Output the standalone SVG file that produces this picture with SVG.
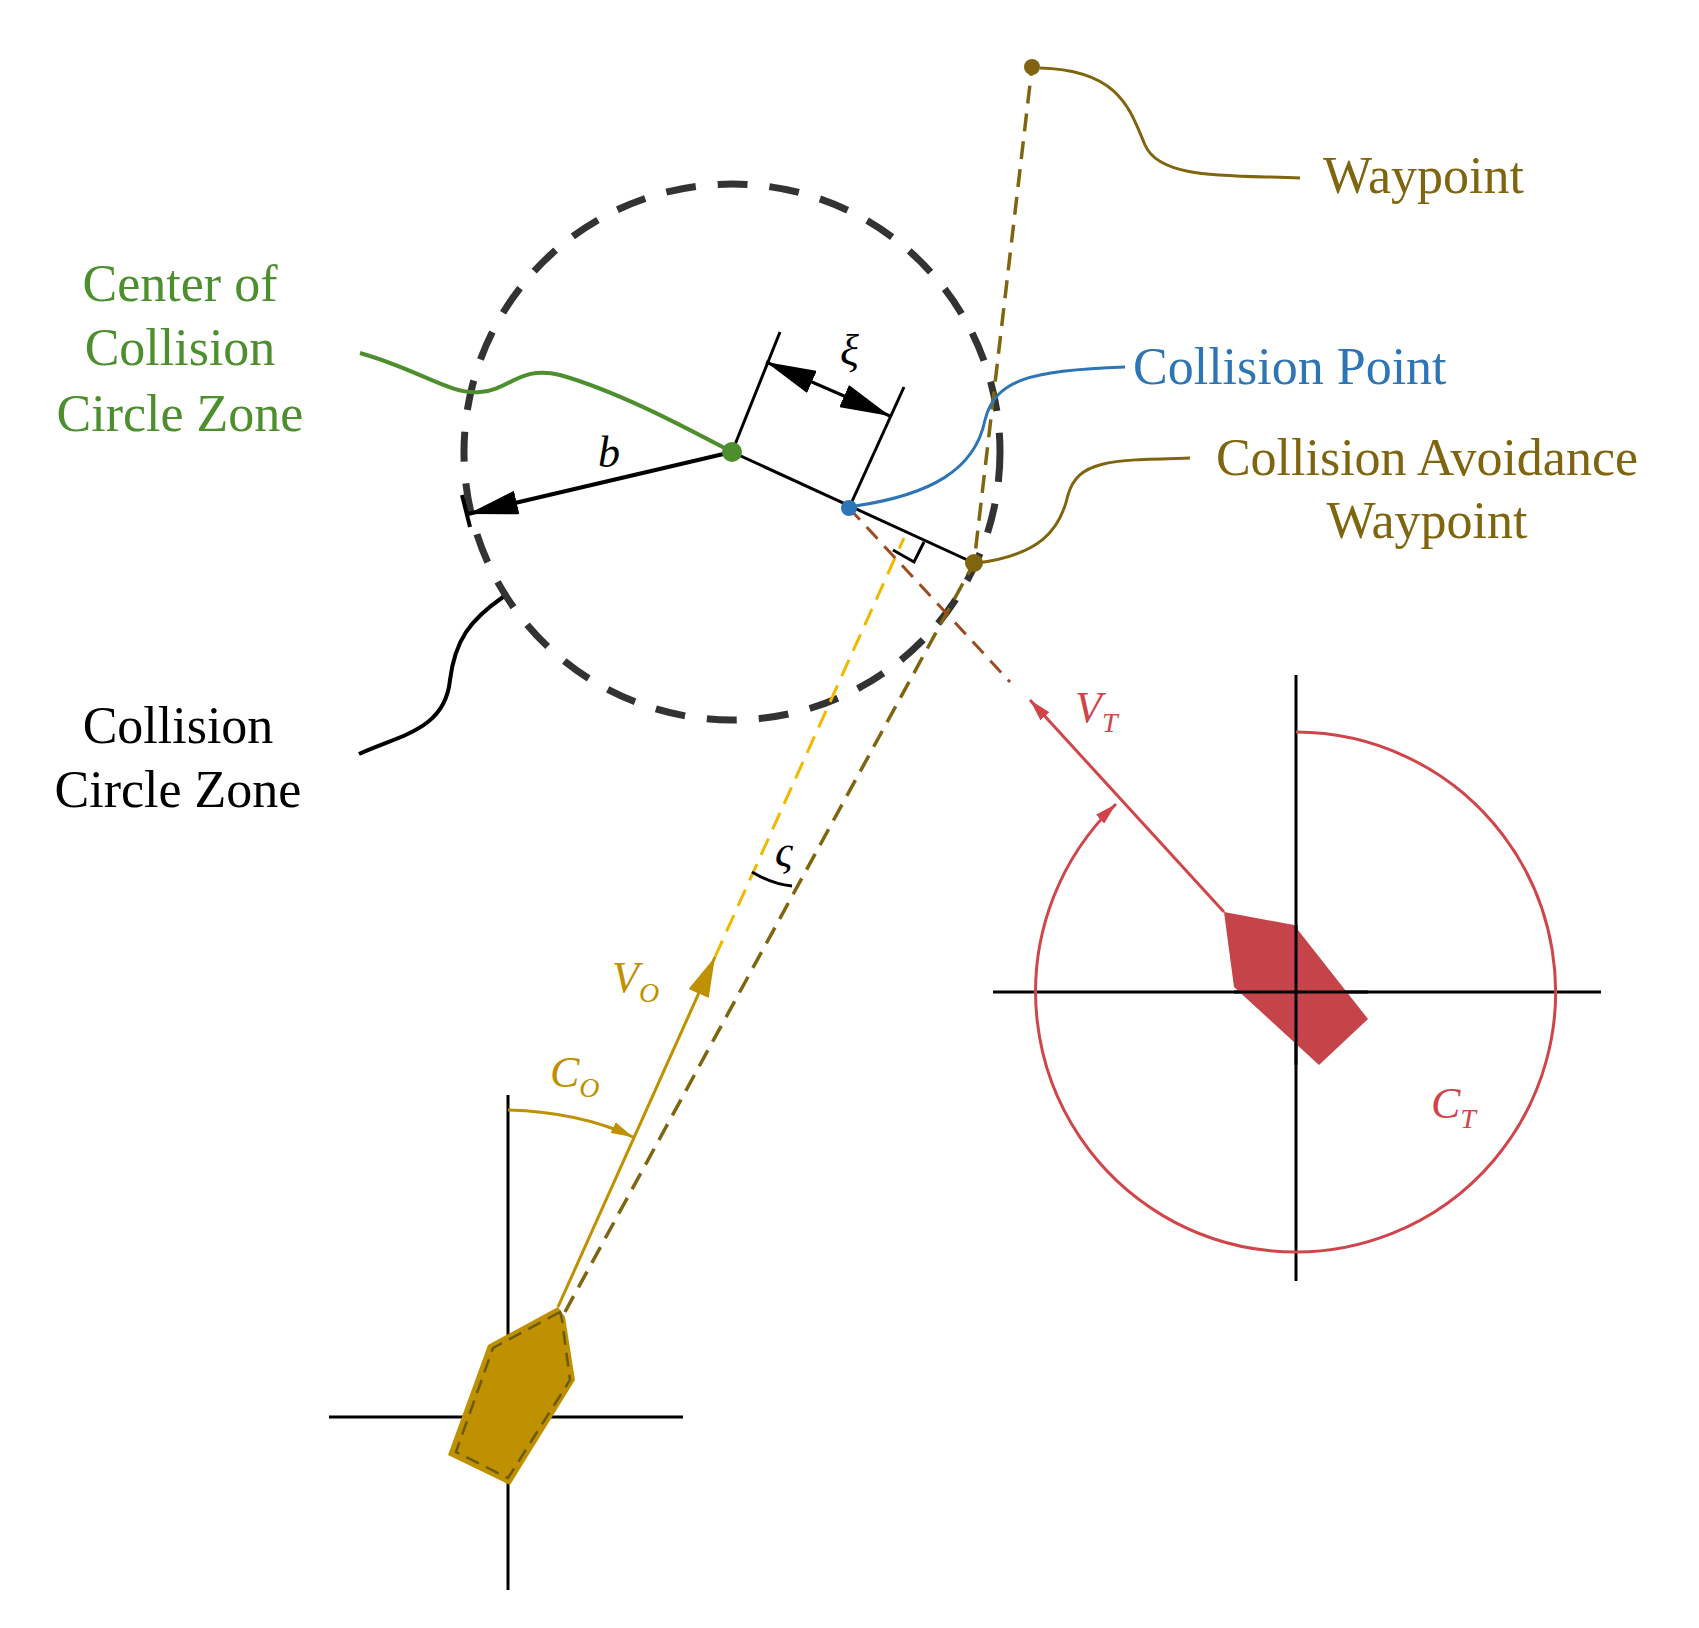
<svg xmlns="http://www.w3.org/2000/svg" width="1699" height="1628" viewBox="0 0 1699 1628">
<style>
.t{font-family:"Liberation Serif","Times New Roman",serif;font-size:52px}
.m{font-family:"Liberation Serif","Times New Roman",serif;font-style:italic;font-size:44px}
.sub{font-size:28px}
</style>
<defs>
<marker id="ab" viewBox="0 0 10 10" refX="10" refY="5" markerWidth="12" markerHeight="8" markerUnits="userSpaceOnUse" orient="auto" preserveAspectRatio="none"><path d="M0,0L10,5L0,10z" fill="#000"/></marker>
<marker id="big" viewBox="0 0 10 10" refX="10" refY="5" markerWidth="50" markerHeight="24" markerUnits="userSpaceOnUse" orient="auto-start-reverse" preserveAspectRatio="none"><path d="M0,0L10,5L0,10z" fill="#000"/></marker>
<marker id="gold" viewBox="0 0 10 10" refX="10" refY="5" markerWidth="40" markerHeight="22" markerUnits="userSpaceOnUse" orient="auto" preserveAspectRatio="none"><path d="M0,0L10,5L0,10z" fill="#bf9000"/></marker>
<marker id="goldS" viewBox="0 0 10 10" refX="10" refY="5" markerWidth="22" markerHeight="12" markerUnits="userSpaceOnUse" orient="auto" preserveAspectRatio="none"><path d="M0,0L10,5L0,10z" fill="#bf9000"/></marker>
<marker id="red" viewBox="0 0 10 10" refX="10" refY="5" markerWidth="22" markerHeight="12" markerUnits="userSpaceOnUse" orient="auto" preserveAspectRatio="none"><path d="M0,0L10,5L0,10z" fill="#d0454a"/></marker>
</defs>
<rect width="1699" height="1628" fill="#fff"/>
<g id="axes" stroke="#000" stroke-width="3">
<line x1="508" y1="1095" x2="508" y2="1590"/><line x1="329" y1="1417" x2="683" y2="1417"/>
<line x1="1296" y1="675" x2="1296" y2="1281"/><line x1="993" y1="992" x2="1601" y2="992"/>
</g>
<g id="zone"><circle cx="732" cy="452" r="268" fill="none" stroke="#333" stroke-width="7" stroke-dasharray="30 22"/></g>
<g id="connectors" fill="none">
<path d="M565,1312L974,563L1032,67" stroke="#806510" stroke-width="3.5" stroke-dasharray="18 10"/>
<line x1="715" y1="957" x2="904" y2="538" stroke="#f2b800" stroke-width="3" stroke-dasharray="18 10"/>
<line x1="849" y1="508" x2="1010" y2="682" stroke="#9c4a1e" stroke-width="3" stroke-dasharray="16 10"/>
<line x1="558" y1="1307" x2="715" y2="957" stroke="#bf9000" stroke-width="3" marker-end="url(#gold)"/>
<line x1="1224" y1="912" x2="1030" y2="700" stroke="#d0454a" stroke-width="3" marker-end="url(#red)"/>
<path d="M1296,732A260,260 0 1 1 1116,804" stroke="#d0454a" stroke-width="3" marker-end="url(#red)"/>
<path d="M508,1110Q580,1112 633,1137" stroke="#bf9000" stroke-width="3" marker-end="url(#goldS)"/>
<path d="M752,872Q772,884 792,886" stroke="#000" stroke-width="3"/>
<line x1="732" y1="452" x2="974" y2="563" stroke="#000" stroke-width="3"/>
<line x1="732" y1="452" x2="468" y2="514" stroke="#000" stroke-width="4" marker-end="url(#big)"/>
<line x1="462" y1="495" x2="470" y2="527" stroke="#000" stroke-width="4"/>
<line x1="732" y1="452" x2="780" y2="332" stroke="#000" stroke-width="3"/>
<line x1="849" y1="508" x2="904" y2="387" stroke="#000" stroke-width="3"/>
<line x1="766" y1="362" x2="890" y2="416" stroke="#000" stroke-width="3" marker-start="url(#big)" marker-end="url(#big)"/>
<polyline points="893,550 914,562 924,542" stroke="#000" stroke-width="3"/>
<path d="M1040,68C1120,70 1130,110 1145,145C1160,180 1230,175 1300,178" stroke="#806510" stroke-width="3"/>
<path d="M855,506C930,495 975,470 985,420C995,380 1030,370 1125,367" stroke="#2e75b6" stroke-width="3"/>
<path d="M977,563C1040,555 1060,530 1068,495C1078,460 1110,460 1190,458" stroke="#806510" stroke-width="3"/>
<path d="M360,353C420,370 450,395 480,392C510,390 520,365 560,375C620,392 690,430 732,452" stroke="#4d8f2f" stroke-width="4"/>
<path d="M503,597C470,620 455,640 450,680C445,730 400,735 359,754" stroke="#000" stroke-width="4"/>
</g>
<g id="own-ship"><polygon points="558,1307 488,1345 448,1455 510,1485 575,1380 565,1317" fill="#bf9000"/>
<polygon points="560,1312 493,1348 456,1452 508,1478 570,1380 562,1320" fill="none" stroke="#6b5a10" stroke-width="2.5" stroke-dasharray="14 8"/></g>
<g id="target-ship"><polygon points="1224,912 1294,925 1368,1019 1319,1065 1234,987" fill="#c44449"/>
<line x1="1296" y1="925" x2="1296" y2="1065" stroke="#000" stroke-width="3"/><line x1="1234" y1="992" x2="1368" y2="992" stroke="#000" stroke-width="3"/></g>
<g id="points">
<circle cx="732" cy="452" r="10" fill="#4d8f2f"/>
<circle cx="849" cy="508" r="8" fill="#2e75b6"/>
<circle cx="974" cy="563" r="9" fill="#806510"/>
<circle cx="1032" cy="67" r="8" fill="#806510"/>
</g>
<g id="labels">
<text class="t" x="1323" y="193" fill="#806510">Waypoint</text>
<text class="t" x="1133" y="384" fill="#2e75b6">Collision Point</text>
<text class="t" x="1427" y="475" fill="#806510" text-anchor="middle">Collision Avoidance</text>
<text class="t" x="1427" y="538" fill="#806510" text-anchor="middle">Waypoint</text>
<g fill="#4d8f2f" class="t" text-anchor="middle"><text x="180" y="301">Center of</text><text x="180" y="365">Collision</text><text x="180" y="431">Circle Zone</text></g>
<g class="t" text-anchor="middle"><text x="178" y="743">Collision</text><text x="178" y="807">Circle Zone</text></g>
<text class="m" x="598" y="467">b</text>
<text class="m" x="840" y="365">ξ</text>
<text class="m" x="775" y="866">ς</text>
<text class="m" x="612" y="992" fill="#bf9000">V<tspan class="sub" dy="10">O</tspan></text>
<text class="m" x="550" y="1087" fill="#bf9000">C<tspan class="sub" dy="10">O</tspan></text>
<text class="m" x="1075" y="722" fill="#d0454a">V<tspan class="sub" dy="10">T</tspan></text>
<text class="m" x="1431" y="1118" fill="#d0454a">C<tspan class="sub" dy="10">T</tspan></text>
</g>
</svg>
